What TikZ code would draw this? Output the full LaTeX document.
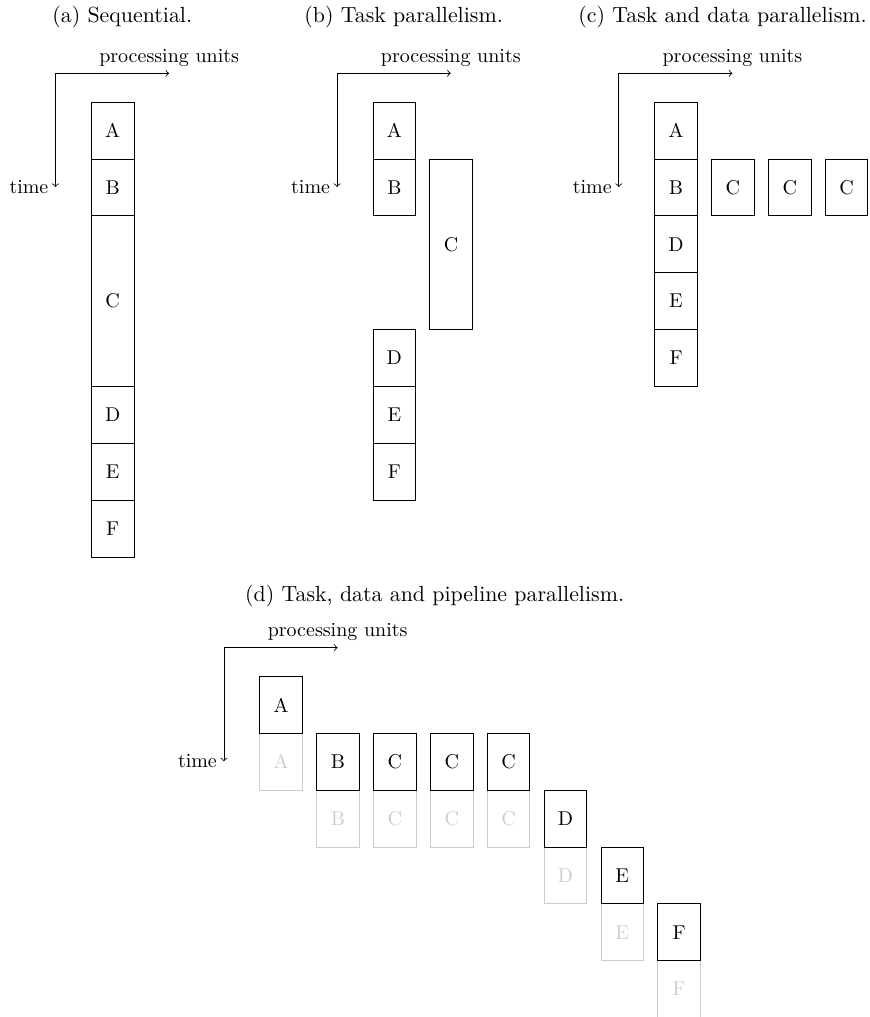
\documentclass[tikz,border=0pt]{standalone}
\usetikzlibrary{positioning}

\begin{document}
\begin{tikzpicture}[>=to,
    task/.style={rectangle, draw=black, minimum width=0.75cm, minimum height=1cm, inner sep=0pt, anchor=north west},
    longtask/.style={task, minimum height=3cm},
    ghost/.style={task, draw=black!20, text=black!20},
    axis/.style={->},
    caption/.style={font=\fontsize{10.95}{13.6}\selectfont}]
    \useasboundingbox (0,0) rectangle (15.29,-17.89);

    % captions
    \node[caption] (cap-a) at (2.15,-0.30) {(a) Sequential.};
    \node[caption] (cap-b) at (7.10,-0.30) {(b) Task parallelism.};
    \node[caption] (cap-c) at (12.71,-0.30) {(c) Task and data parallelism.};
    \node[caption] (cap-d) at (7.645,-10.49) {(d) Task, data and pipeline parallelism.};

    % (a) sequential
    \begin{scope}[shift={(1.60,-1.79)}]
        \coordinate (a-o) at (-0.625,0.5);
        \coordinate (a-x) at (1.375,0.5);
        \coordinate (a-t) at (-0.625,-1.5);
        \draw[axis] (a-o) -- (a-x) node[above] {processing units};
        \draw[axis] (a-o) -- (a-t) node[left] {time};
        \node[task] (a-A) at (0,0) {A};
        \node[task] (a-B) at (0,-1) {B};
        \node[longtask] (a-C) at (0,-2) {C};
        \node[task] (a-D) at (0,-5) {D};
        \node[task] (a-E) at (0,-6) {E};
        \node[task] (a-F) at (0,-7) {F};
    \end{scope}

    % (b) task parallelism
    \begin{scope}[shift={(6.555,-1.79)}]
        \coordinate (b-o) at (-0.625,0.5);
        \coordinate (b-x) at (1.375,0.5);
        \coordinate (b-t) at (-0.625,-1.5);
        \draw[axis] (b-o) -- (b-x) node[above] {processing units};
        \draw[axis] (b-o) -- (b-t) node[left] {time};
        \node[task] (b-A) at (0,0) {A};
        \node[task] (b-B) at (0,-1) {B};
        \node[longtask] (b-C) at (1,-1) {C};
        \node[task] (b-D) at (0,-4) {D};
        \node[task] (b-E) at (0,-5) {E};
        \node[task] (b-F) at (0,-6) {F};
    \end{scope}

    % (c) task and data parallelism
    \begin{scope}[shift={(11.51,-1.79)}]
        \coordinate (c-o) at (-0.625,0.5);
        \coordinate (c-x) at (1.375,0.5);
        \coordinate (c-t) at (-0.625,-1.5);
        \draw[axis] (c-o) -- (c-x) node[above] {processing units};
        \draw[axis] (c-o) -- (c-t) node[left] {time};
        \node[task] (c-A) at (0,0) {A};
        \node[task] (c-B) at (0,-1) {B};
        \foreach \i in {1,2,3}
            \node[task] (c-C\i) at (\i,-1) {C};
        \node[task] (c-D) at (0,-2) {D};
        \node[task] (c-E) at (0,-3) {E};
        \node[task] (c-F) at (0,-4) {F};
    \end{scope}

    % (d) task, data and pipeline parallelism
    \begin{scope}[shift={(4.564,-11.893)}]
        \coordinate (d-o) at (-0.625,0.5);
        \coordinate (d-x) at (1.375,0.5);
        \coordinate (d-t) at (-0.625,-1.5);
        \draw[axis] (d-o) -- (d-x) node[above] {processing units};
        \draw[axis] (d-o) -- (d-t) node[left] {time};
        % previous items, still in flight
        \node[ghost] (d-gA) at (0,-1) {A};
        \node[ghost] (d-gB) at (1,-2) {B};
        \foreach \i in {2,3,4}
            \node[ghost] (d-gC\i) at (\i,-2) {C};
        \node[ghost] (d-gD) at (5,-3) {D};
        \node[ghost] (d-gE) at (6,-4) {E};
        \node[ghost] (d-gF) at (7,-5) {F};
        % current items
        \node[task] (d-A) at (0,0) {A};
        \node[task] (d-B) at (1,-1) {B};
        \foreach \i in {2,3,4}
            \node[task] (d-C\i) at (\i,-1) {C};
        \node[task] (d-D) at (5,-2) {D};
        \node[task] (d-E) at (6,-3) {E};
        \node[task] (d-F) at (7,-4) {F};
    \end{scope}
\end{tikzpicture}
\end{document}
